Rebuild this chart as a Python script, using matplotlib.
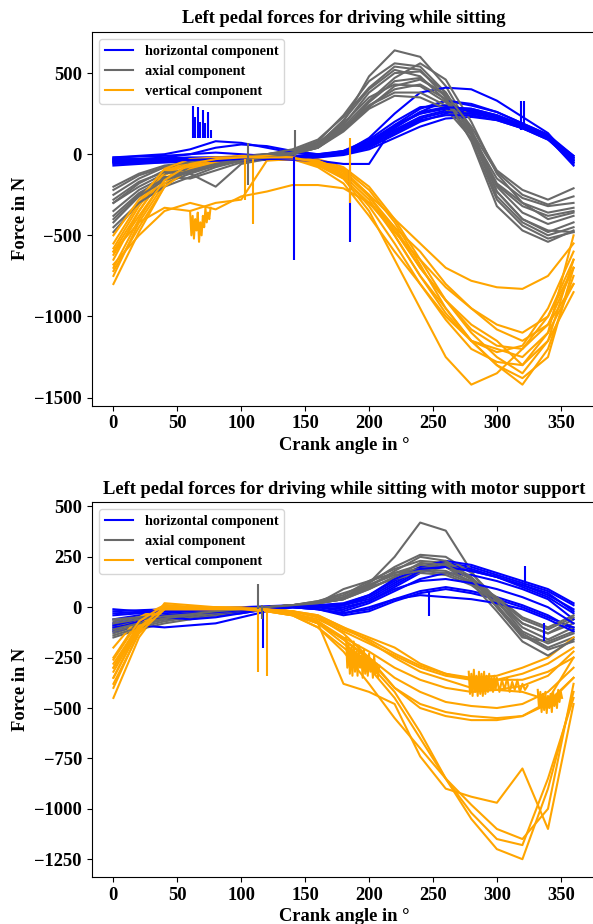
import matplotlib
matplotlib.use("Agg")
import matplotlib.pyplot as plt

# ---------------- data ----------------
angles = [0, 20, 40, 60, 80, 100, 120, 140, 160, 180, 200, 220, 240, 260, 280, 300, 320, 340, 360]

# Panel 1: driving while sitting
top_horizontal = [
    [-30, -35, -30, -25, -20, -20, -15, -10, 0, 20, 80, 180, 280, 330, 300, 260, 190, 120, -10],
    [-50, -45, -40, -40, -35, -30, -25, -20, -10, 10, 60, 150, 230, 270, 260, 230, 170, 100, -40],
    [-20, -15, -10, 0, 10, 0, -10, -15, -5, 15, 70, 170, 250, 290, 280, 240, 180, 110, -20],
    [-60, -55, -50, -45, -40, -35, -30, -25, -15, 0, 40, 120, 200, 250, 250, 220, 160, 90, -50],
    [-40, -30, -20, 0, 40, 60, 50, 20, 0, 10, 60, 160, 260, 330, 310, 260, 190, 120, -30],
    [-40, -40, -35, -30, -30, -30, -25, -20, -10, 10, 100, 250, 380, 410, 400, 330, 230, 130, -50],
    [-70, -60, -50, -45, -40, -35, -35, -30, -20, -5, 30, 100, 170, 220, 230, 210, 160, 100, -60],
    [-30, -30, -25, -20, -20, -20, -20, -15, -5, 20, 90, 200, 290, 300, 270, 220, 160, 90, -20],
    [-50, -45, -45, -40, -40, -40, -35, -35, -40, -60, -60, 180, 250, 280, 270, 230, 170, 100, -40],
    [-20, -10, 0, 30, 80, 70, 40, 10, 0, 10, 50, 140, 220, 260, 250, 230, 180, 100, -30],
    [-50, -50, -45, -40, -35, -30, -30, -25, -15, 0, 50, 130, 210, 240, 240, 210, 160, 110, -10],
    [-35, -40, -40, -35, -30, -30, -30, -25, -15, 5, 70, 170, 260, 290, 280, 240, 180, 100, -70],
]
top_axial = [
    [-300, -180, -100, -60, -30, -10, 0, 10, 60, 200, 480, 640, 600, 420, 150, -230, -400, -480, -420],
    [-250, -150, -80, -50, -30, -10, 0, 20, 80, 240, 450, 560, 540, 380, 120, -260, -420, -500, -450],
    [-400, -250, -150, -100, -60, -30, -10, 10, 60, 180, 380, 500, 510, 380, 150, -200, -360, -430, -380],
    [-480, -300, -180, -120, -70, -40, -10, 10, 50, 150, 320, 450, 470, 360, 130, -230, -400, -470, -480],
    [-220, -130, -80, -60, -40, -20, 0, 20, 70, 190, 350, 430, 420, 320, 120, -180, -300, -360, -330],
    [-350, -220, -140, -150, -100, -50, -20, 0, 40, 160, 300, 380, 380, 300, 120, -150, -270, -320, -300],
    [-300, -200, -120, -90, -60, -30, -10, 10, 50, 170, 330, 470, 560, 460, 200, -120, -300, -400, -360],
    [-450, -300, -200, -140, -80, -40, -10, 0, 40, 140, 280, 360, 350, 280, 100, -190, -320, -380, -350],
    [-280, -170, -110, -120, -200, -60, -30, 0, 60, 210, 400, 520, 480, 330, 90, -280, -440, -520, -480],
    [-380, -240, -150, -100, -60, -30, -10, 10, 50, 160, 300, 400, 430, 340, 140, -110, -250, -310, -260],
    [-200, -120, -70, -50, -30, -20, 0, 30, 90, 230, 410, 540, 520, 350, 80, -320, -470, -540, -470],
    [-420, -260, -160, -110, -70, -40, -20, 0, 40, 150, 290, 420, 460, 370, 170, -100, -220, -280, -210],
]
top_vertical = [
    [-800, -480, -200, -80, -40, -30, -20, -20, -40, -100, -250, -500, -750, -950, -1150, -1300, -1420, -1200, -750],
    [-650, -350, -120, -50, -30, -20, -10, -10, -30, -80, -200, -400, -650, -900, -1100, -1250, -1350, -1150, -650],
    [-700, -400, -150, -60, -30, -20, -20, -20, -60, -150, -350, -650, -950, -1250, -1420, -1350, -1200, -1050, -800],
    [-550, -300, -100, -40, -20, -20, -20, -20, -50, -120, -250, -400, -550, -700, -780, -820, -830, -750, -550],
    [-600, -350, -130, -50, -30, -30, -20, -30, -70, -150, -300, -480, -650, -820, -950, -1050, -1100, -1000, -700],
    [-750, -420, -180, -70, -40, -30, -20, -30, -80, -180, -380, -600, -800, -1000, -1150, -1200, -1250, -1100, -800],
    [-580, -320, -110, -40, -20, -10, -10, -20, -40, -90, -220, -420, -680, -950, -1150, -1300, -1380, -1250, -700],
    [-720, -450, -200, -90, -50, -40, -30, -30, -60, -130, -280, -500, -750, -980, -1150, -1220, -1180, -950, -600],
    [-680, -500, -350, -300, -340, -260, -230, -190, -190, -210, -300, -450, -600, -800, -950, -1080, -1150, -1050, -700],
    [-600, -420, -330, -350, -300, -280, -40, -30, -40, -100, -260, -470, -700, -900, -1080, -1180, -1200, -1000, -650],
    [-500, -280, -90, -30, -20, -20, -10, -20, -40, -110, -260, -450, -700, -900, -1050, -1150, -1300, -1100, -500],
    [-620, -380, -160, -60, -30, -20, -20, -20, -50, -140, -320, -550, -800, -1020, -1200, -1280, -1300, -1150, -850],
]
# short spikes: angle, start value, tip value
top_h_spike_angle = [62, 64, 66, 68, 70, 72, 74, 76, 141.6, 184.8, 319, 321]
top_h_spike_base = [100, 100, 100, 100, 100, 100, 100, 100, -20, -10, 150, 150]
top_h_spike_tip = [300, 230, 290, 200, 270, 190, 260, 150, -650, -540, 330, 330]
top_a_spike_angle = [105, 142]
top_a_spike_base = [70, -10]
top_a_spike_tip = [-190, 150]
top_v_spike_angle = [103, 109, 185]
top_v_spike_base = [-30, -30, 100]
top_v_spike_tip = [-280, -430, -300]
top_v_noise_angle = [60, 61, 62, 63, 64, 65, 66, 67, 68, 69, 70, 71, 72, 73, 74, 75, 76]
top_v_noise_value = [-350, -500, -380, -520, -400, -470, -360, -540, -420, -500, -380, -450, -330, -420, -360, -400, -330]

# Panel 2: driving while sitting with motor support
bot_horizontal = [
    [-20, -15, -10, -10, -5, 0, 5, 10, 10, 10, 50, 120, 190, 220, 200, 160, 120, 80, 10],
    [-60, -40, -30, -25, -20, -10, 0, 5, 5, 0, 30, 100, 170, 210, 190, 150, 110, 70, -20],
    [-100, -80, -60, -50, -40, -30, -10, 0, -10, -30, 0, 40, 80, 100, 80, 50, 10, -40, -110],
    [-120, -90, -100, -90, -80, -50, -20, 0, -10, -40, -20, 30, 70, 90, 70, 40, 0, -50, -100],
    [-40, -30, -20, -15, -10, -5, 0, 5, 10, 20, 60, 130, 200, 230, 210, 170, 130, 90, 20],
    [-80, -60, -50, -40, -30, -20, -10, 0, 0, -20, 20, 80, 140, 170, 160, 130, 90, 40, -60],
    [-10, -20, -20, -20, -15, -10, 0, 5, 5, 10, 40, 110, 180, 200, 180, 150, 100, 50, -30],
    [-110, -70, -50, -60, -50, -30, -10, 0, -10, -30, -10, 40, 60, 50, 40, 20, -10, -60, -120],
    [-30, -25, -20, -15, -10, -5, 0, 5, 10, 15, 60, 140, 190, 200, 180, 150, 110, 60, -10],
    [-90, -60, -40, -30, -25, -15, -5, 0, 0, -10, 30, 90, 130, 140, 120, 90, 50, 0, -80],
]
bot_axial = [
    [-130, -90, -60, -40, -20, -10, 0, 10, 20, 40, 120, 250, 420, 380, 180, 0, -150, -170, -120],
    [-100, -70, -50, -40, -30, -20, -5, 5, 20, 50, 120, 200, 260, 250, 170, 40, -80, -130, -80],
    [-150, -110, -80, -60, -40, -20, -5, 5, 20, 40, 90, 150, 200, 200, 140, 30, -100, -160, -100],
    [-70, -50, -40, -30, -20, -10, 0, 10, 30, 60, 130, 190, 230, 220, 140, 10, -130, -200, -150],
    [-120, -90, -60, -40, -25, -10, 0, 10, 25, 50, 100, 140, 170, 160, 110, 20, -80, -130, -60],
    [-90, -70, -50, -35, -20, -10, 0, 10, 20, 40, 110, 170, 210, 200, 120, -20, -170, -240, -160],
    [-140, -100, -70, -50, -30, -15, 0, 10, 20, 90, 130, 170, 190, 180, 130, 50, -50, -100, -40],
    [-60, -50, -40, -30, -20, -10, 0, 10, 25, 45, 100, 180, 250, 230, 150, 30, -120, -180, -130],
    [-110, -80, -55, -40, -25, -10, 0, 10, 30, 70, 110, 160, 180, 170, 120, 40, -60, -110, -50],
    [-80, -60, -45, -35, -20, -10, 0, 10, 20, 40, 90, 150, 220, 210, 140, 0, -140, -210, -170],
]
bot_vertical = [
    [-450, -150, 20, 10, 0, -10, -10, -20, -40, -100, -150, -200, -280, -330, -360, -360, -330, -280, -200],
    [-350, -100, 10, 0, -5, -10, -10, -30, -60, -120, -180, -240, -300, -340, -360, -360, -360, -320, -250],
    [-300, -80, 0, -10, -10, -10, -15, -30, -70, -150, -220, -300, -360, -400, -420, -410, -390, -340, -220],
    [-250, -60, 0, 0, -5, -5, -10, -20, -50, -110, -160, -230, -290, -330, -350, -340, -300, -250, -150],
    [-400, -120, -10, -10, -10, -10, -20, -40, -80, -160, -250, -350, -420, -470, -490, -500, -480, -420, -300],
    [-200, -50, 10, 0, 0, 0, -10, -20, -50, -130, -250, -400, -480, -520, -540, -550, -540, -470, -350],
    [-300, -100, 0, -10, -10, -10, -15, -30, -80, -180, -280, -420, -620, -850, -1050, -1200, -1250, -900, -420],
    [-280, -90, 0, -5, -5, -10, -20, -40, -100, -200, -300, -450, -650, -850, -1020, -1150, -1180, -850, -450],
    [-350, -110, -10, -10, -10, -10, -15, -30, -80, -380, -420, -480, -740, -900, -940, -970, -800, -1100, -480],
    [-380, -130, -10, -10, -10, -10, -20, -40, -100, -220, -380, -550, -700, -850, -980, -1100, -1150, -1000, -380],
    [-320, -100, 0, 0, -5, -5, -10, -30, -70, -160, -260, -400, -500, -540, -560, -560, -540, -480, -350],
    [-260, -70, 10, 0, 0, -5, -10, -20, -40, -100, -170, -250, -320, -360, -400, -410, -420, -460, -250],
]
bot_h_spike_angle = [117, 247, 322, 337]
bot_h_spike_base = [-20, 80, 100, -80]
bot_h_spike_tip = [-200, -45, 205, -170]
bot_a_spike_angle = [113, 116]
bot_a_spike_base = [-10, 10]
bot_a_spike_tip = [113, -60]
bot_v_spike_angle = [113, 120]
bot_v_spike_base = [-20, -20]
bot_v_spike_tip = [-320, -340]
bot_v_noise1_angle = [182, 183, 184, 185, 186, 187, 188, 189, 190, 191, 192, 193, 194, 195, 196, 197, 198, 199, 200, 201, 202, 203, 204, 205, 206, 207, 208]
bot_v_noise1_value = [-150, -300, -180, -330, -200, -340, -170, -320, -220, -340, -190, -300, -240, -350, -210, -330, -250, -340, -230, -320, -260, -350, -240, -330, -280, -350, -290]
bot_v_noise2_angle = [278, 279, 280, 281, 282, 283, 284, 285, 286, 287, 288, 289, 290, 291, 292, 293, 294, 295, 296, 297, 298, 299, 300, 302, 304, 306, 308, 310, 312, 314, 316, 318, 320, 322, 324]
bot_v_noise2_value = [-320, -430, -330, -440, -310, -420, -340, -440, -320, -430, -330, -440, -320, -430, -340, -420, -330, -410, -350, -420, -340, -410, -350, -420, -360, -410, -350, -420, -370, -410, -360, -420, -380, -410, -390]
bot_v_noise3_angle = [332, 333, 334, 335, 336, 337, 338, 339, 340, 341, 342, 343, 344, 345, 346, 347, 348, 349, 350, 351]
bot_v_noise3_value = [-410, -500, -420, -520, -430, -510, -420, -525, -440, -500, -430, -520, -420, -490, -440, -500, -410, -470, -420, -450]

TITLES = ["Left pedal forces for driving while sitting",
          "Left pedal forces for driving while sitting with motor support"]
XLABEL = "Crank angle in \u00b0"
YLABEL = "Force in N"
LABELS = ["horizontal component", "axial component", "vertical component"]
C_H, C_A, C_V = "#0000ff", "#696969", "#ffa500"

# ---------------- drawing ----------------
plt.rcParams["font.family"] = ["Liberation Serif", "DejaVu Serif"]
plt.rcParams["font.weight"] = "bold"
plt.rcParams["axes.labelweight"] = "bold"
plt.rcParams["axes.titleweight"] = "bold"

fig = plt.figure(figsize=(5.93, 9.24), dpi=100)
ax1 = fig.add_axes([0.1546, 0.5609, 0.8514, 0.4048])
ax2 = fig.add_axes([0.1546, 0.0505, 0.8514, 0.4062])

LW = 1.5
FS = 13.3


def draw(ax, H, A, V, hs, as_, vs, noises, title, xlim, ylim):
    n = max(len(H), len(A), len(V))
    for i in range(n):
        if i < len(H):
            ax.plot(angles, H[i], color=C_H, lw=LW, label=LABELS[0] if i == 0 else None)
        if i < len(A):
            ax.plot(angles, A[i], color=C_A, lw=LW, label=LABELS[1] if i == 0 else None)
        if i < len(V):
            ax.plot(angles, V[i], color=C_V, lw=LW, label=LABELS[2] if i == 0 else None)
    for (xs, b, t), c in zip((hs, as_, vs), (C_H, C_A, C_V)):
        ax.vlines(xs, b, t, color=c, lw=LW)
    for xs, ys in noises:
        ax.plot(xs, ys, color=C_V, lw=LW)
    ax.set_xlim(*xlim)
    ax.set_ylim(*ylim)
    ax.set_title(title, fontsize=FS, fontweight="bold", pad=6)
    ax.set_xlabel(XLABEL, fontsize=FS, fontweight="bold", labelpad=3)
    ax.set_ylabel(YLABEL, fontsize=FS, fontweight="bold")
    ax.tick_params(labelsize=FS)
    for lab in ax.get_xticklabels() + ax.get_yticklabels():
        lab.set_fontweight("bold")
    ax.legend(loc="upper left", prop={"family": "Liberation Serif", "weight": "bold", "size": 10.3})


draw(ax1, top_horizontal, top_axial, top_vertical,
     (top_h_spike_angle, top_h_spike_base, top_h_spike_tip),
     (top_a_spike_angle, top_a_spike_base, top_a_spike_tip),
     (top_v_spike_angle, top_v_spike_base, top_v_spike_tip),
     [(top_v_noise_angle, top_v_noise_value)],
     TITLES[0], (-17, 378), (-1550, 755))
ax1.set_yticks([-1500, -1000, -500, 0, 500])

draw(ax2, bot_horizontal, bot_axial, bot_vertical,
     (bot_h_spike_angle, bot_h_spike_base, bot_h_spike_tip),
     (bot_a_spike_angle, bot_a_spike_base, bot_a_spike_tip),
     (bot_v_spike_angle, bot_v_spike_base, bot_v_spike_tip),
     [(bot_v_noise1_angle, bot_v_noise1_value), (bot_v_noise2_angle, bot_v_noise2_value),
      (bot_v_noise3_angle, bot_v_noise3_value)],
     TITLES[1], (-17, 378), (-1340, 522))
ax2.set_yticks([-1250, -1000, -750, -500, -250, 0, 250, 500])

fig.savefig("out.png", dpi=100)
